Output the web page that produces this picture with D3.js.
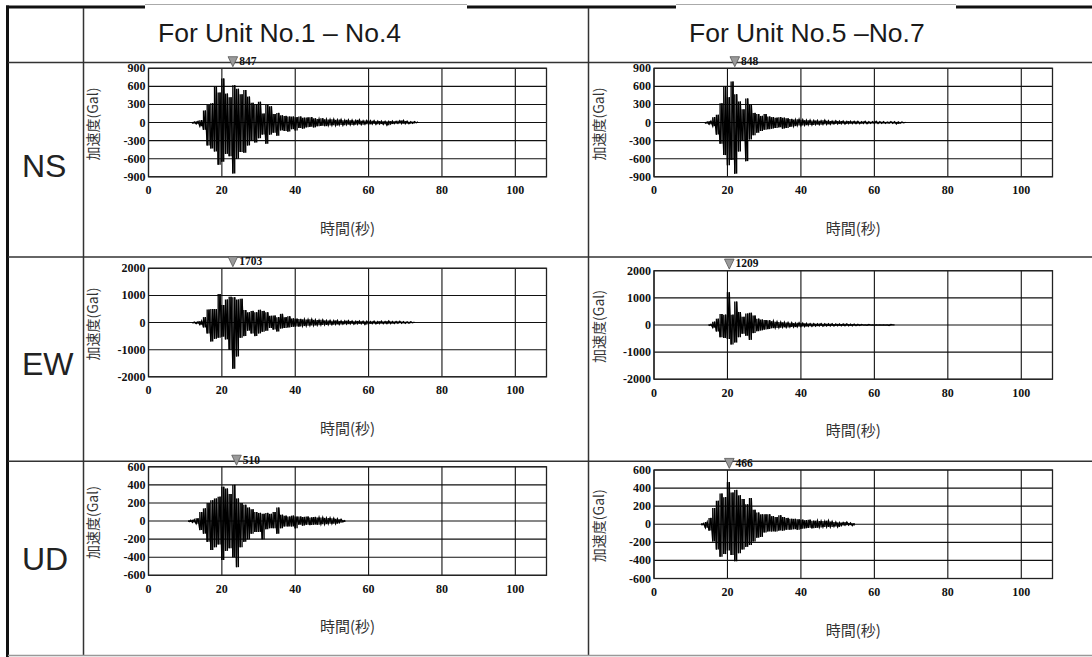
<!DOCTYPE html>
<html>
<head>
<meta charset="utf-8">
<script src="https://cdn.jsdelivr.net/npm/d3@7/dist/d3.min.js"></script>
<style>
  html, body { margin: 0; padding: 0; background: #fff; }
  svg { display: block; }
</style>
</head>
<body>
<svg id="chart" width="1092" height="657"></svg>
<script>
// ---- Table headings -------------------------------------------------------
const unitTitles = ["For Unit No.1 \u2013 No.4", "For Unit No.5 \u2013No.7"];
const components = ["NS", "EW", "UD"];

// ---- Axis ticks -----------------------------------------------------------
const timeTicks = [0, 20, 40, 60, 80, 100];
const timeMax = 108.5;
const nsTicks = [900, 600, 300, 0, -300, -600, -900];
const ewTicks = [2000, 1000, 0, -1000, -2000];
const udTicks = [600, 400, 200, 0, -200, -400, -600];
const yTitle = "加速度(Gal)";
const xTitle = "時間(秒)";

// ---- Acceleration records (Gal) --------------------------------------------
// Each record: per-second trough (lo) and crest (hi) values, from the start second.
const nsUnit14Start = 12;
const nsUnit14Lo = [-15,-25,-60,-120,-380,-430,-480,-700,-650,-520,-560,-847,-600,-490,-500,-380,-300,-330,-260,-200,-350,-200,-170,-220,-130,-140,-150,-110,-130,-90,-100,-80,-70,-80,-60,-55,-60,-50,-45,-50,-40,-45,-35,-40,-35,-30,-35,-30,-30,-25,-30,-25,-30,-45,-25,-20,-15,-20,-20,-20,-15,-5];
const nsUnit14Hi = [10,20,40,200,290,320,600,500,730,480,420,620,560,470,540,430,330,300,345,150,290,270,140,160,120,110,100,100,90,100,80,85,90,70,60,70,55,50,55,45,50,40,45,40,35,45,30,35,30,30,25,25,20,20,25,20,30,35,25,15,15,10];

const nsUnit57Start = 14;
const nsUnit57Lo = [-15,-30,-60,-200,-350,-540,-710,-620,-848,-480,-300,-640,-280,-210,-170,-140,-120,-110,-100,-90,-80,-100,-90,-70,-60,-50,-50,-45,-40,-40,-35,-35,-30,-30,-30,-25,-25,-20,-25,-20,-20,-20,-20,-15,-20,-15,-15,-15,-15,-15,-10,-15,-25,-10,-5];
const nsUnit57Hi = [10,25,90,130,320,600,420,680,470,350,220,400,300,160,140,110,140,100,90,80,90,80,70,60,50,55,45,40,40,35,35,30,40,30,25,30,25,25,20,25,20,20,15,20,15,15,20,15,15,10,15,15,10,10,5];

const ewUnit14Start = 12;
const ewUnit14Lo = [-20,-40,-80,-180,-400,-700,-600,-560,-520,-620,-1000,-1703,-1250,-560,-500,-300,-400,-500,-400,-340,-300,-200,-260,-330,-220,-200,-180,-160,-150,-150,-130,-120,-110,-110,-100,-90,-90,-80,-80,-70,-70,-60,-60,-50,-60,-50,-50,-70,-50,-40,-50,-40,-40,-40,-40,-35,-30,-30,-30,-25,-10];
const ewUnit14Hi = [15,30,60,200,480,500,500,1050,650,850,950,930,850,880,460,380,430,380,470,430,380,250,260,200,320,200,230,150,140,130,120,110,120,100,90,100,80,80,70,80,60,60,70,60,50,60,50,50,40,50,40,50,40,60,40,40,50,35,30,30,20];

const ewUnit57Start = 15;
const ewUnit57Lo = [-30,-100,-240,-450,-480,-520,-720,-650,-450,-320,-400,-550,-300,-230,-200,-170,-150,-120,-110,-100,-90,-90,-80,-80,-70,-60,-60,-50,-50,-45,-40,-45,-40,-40,-40,-35,-35,-30,-35,-30,-30,-20,-5,-15,-5,-5,-5,-5,-5,-20,0];
const ewUnit57Hi = [25,120,230,400,380,1209,380,860,480,300,420,450,350,230,200,180,170,140,120,110,100,90,80,70,80,70,60,50,50,45,50,40,45,40,35,40,35,40,30,30,25,20,5,15,5,5,5,5,5,20,0];

const udUnit14Start = 11;
const udUnit14Lo = [-10,-15,-30,-100,-140,-230,-320,-290,-260,-430,-330,-300,-400,-510,-290,-230,-200,-140,-120,-120,-200,-90,-80,-80,-140,-80,-60,-60,-60,-80,-40,-50,-40,-45,-40,-40,-35,-35,-30,-30,-30,-20,-10];
const udUnit14Hi = [10,15,30,100,140,200,230,250,270,380,360,300,400,250,200,180,150,130,100,90,80,90,80,100,150,70,60,50,60,50,50,45,50,40,45,40,40,35,35,30,25,20,10];

const udUnit57Start = 13;
const udUnit57Lo = [-10,-40,-70,-190,-280,-360,-330,-290,-340,-410,-320,-280,-250,-230,-190,-150,-140,-90,-80,-80,-80,-70,-70,-60,-60,-55,-60,-50,-45,-40,-45,-40,-35,-30,-30,-30,-25,-30,-15,-10,-10,-15];
const udUnit57Hi = [10,25,70,180,260,340,300,466,350,380,320,280,220,290,160,130,110,110,110,90,80,100,80,70,60,60,55,50,45,50,40,40,35,35,40,30,25,20,20,25,15,10];

// ---- Panel table (row = component, col = unit group) -------------------------
const panels = [
  { row: 0, col: 0, ticks: nsTicks, start: nsUnit14Start, lo: nsUnit14Lo, hi: nsUnit14Hi },
  { row: 0, col: 1, ticks: nsTicks, start: nsUnit57Start, lo: nsUnit57Lo, hi: nsUnit57Hi },
  { row: 1, col: 0, ticks: ewTicks, start: ewUnit14Start, lo: ewUnit14Lo, hi: ewUnit14Hi },
  { row: 1, col: 1, ticks: ewTicks, start: ewUnit57Start, lo: ewUnit57Lo, hi: ewUnit57Hi },
  { row: 2, col: 0, ticks: udTicks, start: udUnit14Start, lo: udUnit14Lo, hi: udUnit14Hi },
  { row: 2, col: 1, ticks: udTicks, start: udUnit57Start, lo: udUnit57Lo, hi: udUnit57Hi }
];

// ---- Layout ----------------------------------------------------------------
const W = 1092, H = 657;
const colPlot = [{ l: 148.5, r: 546.5 }, { l: 654, r: 1052.5 }];
const plotTop = [[68.3, 68.3], [268.3, 270.7], [466.8, 470]];
const plotH = 108.5;
const rowLines = [62.5, 257, 461.3];
const rowLabelBase = [177, 375, 570];
const colLines = [83.5, 588.5];
const titleX = [158, 689];

const svg = d3.select("#chart");
svg.append("rect").attr("width", W).attr("height", H).attr("fill", "#fff");

// ---- Table frame -------------------------------------------------------------
const table = svg.append("g").attr("class", "table");
[[145, 467], [676, 956]].forEach(([a, b]) => {
  table.append("line").attr("x1", a).attr("x2", b).attr("y1", 4.5).attr("y2", 4.5)
    .attr("stroke", "#aaa").attr("stroke-width", 1);
});
[[6, 145], [467, 676], [956, 1092]].forEach(([a, b]) => {
  table.append("line").attr("x1", a).attr("x2", b).attr("y1", 7).attr("y2", 7)
    .attr("stroke", "#111").attr("stroke-width", 3);
});
table.append("line").attr("x1", 7.5).attr("x2", 7.5).attr("y1", 5.5).attr("y2", H)
  .attr("stroke", "#111").attr("stroke-width", 3);
colLines.forEach(x => {
  table.append("line").attr("x1", x).attr("x2", x).attr("y1", 8).attr("y2", 656)
    .attr("stroke", "#333").attr("stroke-width", 1.5);
});
rowLines.forEach(y => {
  table.append("line").attr("x1", 8).attr("x2", W).attr("y1", y).attr("y2", y)
    .attr("stroke", "#333").attr("stroke-width", 1.5);
});
table.append("line").attr("x1", 8).attr("x2", W).attr("y1", 655.5).attr("y2", 655.5)
  .attr("stroke", "#999").attr("stroke-width", 1.5);

unitTitles.forEach((t, i) => {
  table.append("text").attr("x", titleX[i]).attr("y", 41.5)
    .attr("font-family", "'Liberation Sans', Arial, sans-serif")
    .attr("font-size", 26.5).attr("fill", "#1a1a1a").text(t);
});
components.forEach((c, i) => {
  table.append("text").attr("x", 22).attr("y", rowLabelBase[i])
    .attr("font-family", "'Liberation Sans', Arial, sans-serif")
    .attr("font-size", 32).attr("fill", "#222").text(c);
});

// ---- Panels ------------------------------------------------------------------
const tickFont = "'Liberation Serif', 'Times New Roman', serif";
const jpFont = "'Noto Sans CJK JP', 'Noto Sans CJK SC', sans-serif";

panels.forEach(p => {
  const top = plotTop[p.row][p.col];
  const { l, r } = colPlot[p.col];
  const yMax = d3.max(p.ticks);
  const x = d3.scaleLinear().domain([0, timeMax]).range([l, r]);
  const y = d3.scaleLinear().domain([-yMax, yMax]).range([top + plotH, top]);
  const g = svg.append("g");

  // grid
  g.selectAll(".gy").data(p.ticks).join("line")
    .attr("x1", l).attr("x2", r).attr("y1", d => y(d)).attr("y2", d => y(d))
    .attr("stroke", "#111").attr("stroke-width", 1.1);
  g.selectAll(".gx").data(timeTicks).join("line")
    .attr("x1", d => x(d)).attr("x2", d => x(d)).attr("y1", top).attr("y2", top + plotH)
    .attr("stroke", "#111").attr("stroke-width", 1.1);
  g.append("rect").attr("x", l).attr("y", top).attr("width", r - l).attr("height", plotH)
    .attr("fill", "none").attr("stroke", "#222").attr("stroke-width", 1.3);

  // acceleration trace: trough then crest within each second
  const pts = [];
  p.lo.forEach((v, i) => {
    pts.push([p.start + i, v, i]);
    pts.push([p.start + i + 0.5, p.hi[i], i]);
  });
  // trough-to-crest range of every half second
  g.selectAll(".rng").data(pts).join("line")
    .attr("x1", d => x(d[0])).attr("x2", d => x(d[0]))
    .attr("y1", d => y(p.lo[d[2]])).attr("y2", d => y(p.hi[d[2]]))
    .attr("stroke", "#000").attr("stroke-width", 1.35);
  const line = d3.line().x(d => x(d[0])).y(d => y(d[1]));
  g.append("path").attr("d", line(pts)).attr("fill", "none")
    .attr("stroke", "#000").attr("stroke-width", 1.3).attr("stroke-linejoin", "miter");

  // y tick labels
  g.selectAll(".ty").data(p.ticks).join("text")
    .attr("x", l - 3).attr("y", d => y(d) + 4).attr("text-anchor", "end")
    .attr("font-family", tickFont).attr("font-weight", "bold").attr("font-size", 12)
    .attr("fill", "#111").text(d => String(d));
  // x tick labels
  g.selectAll(".tx").data(timeTicks).join("text")
    .attr("x", d => x(d)).attr("y", top + plotH + 17.5).attr("text-anchor", "middle")
    .attr("font-family", tickFont).attr("font-weight", "bold").attr("font-size", 12)
    .attr("fill", "#111").text(d => String(d));

  // axis titles
  g.append("text").attr("x", (l + r) / 2).attr("y", top + plotH + 57)
    .attr("text-anchor", "middle").attr("font-family", jpFont).attr("font-size", 15)
    .attr("fill", "#333").text(xTitle);
  const yx = l - 55.5, yy = top + plotH / 2 + 1.5;
  g.append("text").attr("transform", `translate(${yx + 5},${yy}) rotate(-90)`)
    .attr("text-anchor", "middle").attr("font-family", jpFont).attr("font-size", 14)
    .attr("fill", "#333").text(yTitle);

  p.x = x; p.top = top; p.pts = pts;
});

// ---- Peak markers ------------------------------------------------------------
panels.forEach(p => {
  const peak = d3.greatest(p.pts, d => Math.abs(d[1]));
  const px = p.x(peak[0]);
  const tip = p.top - 1.6, h = 10, hw = 4.8;
  svg.append("path")
    .attr("d", `M${px - hw},${tip - h}L${px + hw},${tip - h}L${px},${tip}Z`)
    .attr("fill", "#9a9a9a").attr("stroke", "#555").attr("stroke-width", 0.8);
  svg.append("text").attr("x", px + hw + 1.5).attr("y", p.top - 3.3)
    .attr("font-family", tickFont).attr("font-weight", "bold").attr("font-size", 11.5)
    .attr("fill", "#111").text(String(Math.abs(peak[1])));
});
</script>
</body>
</html>
